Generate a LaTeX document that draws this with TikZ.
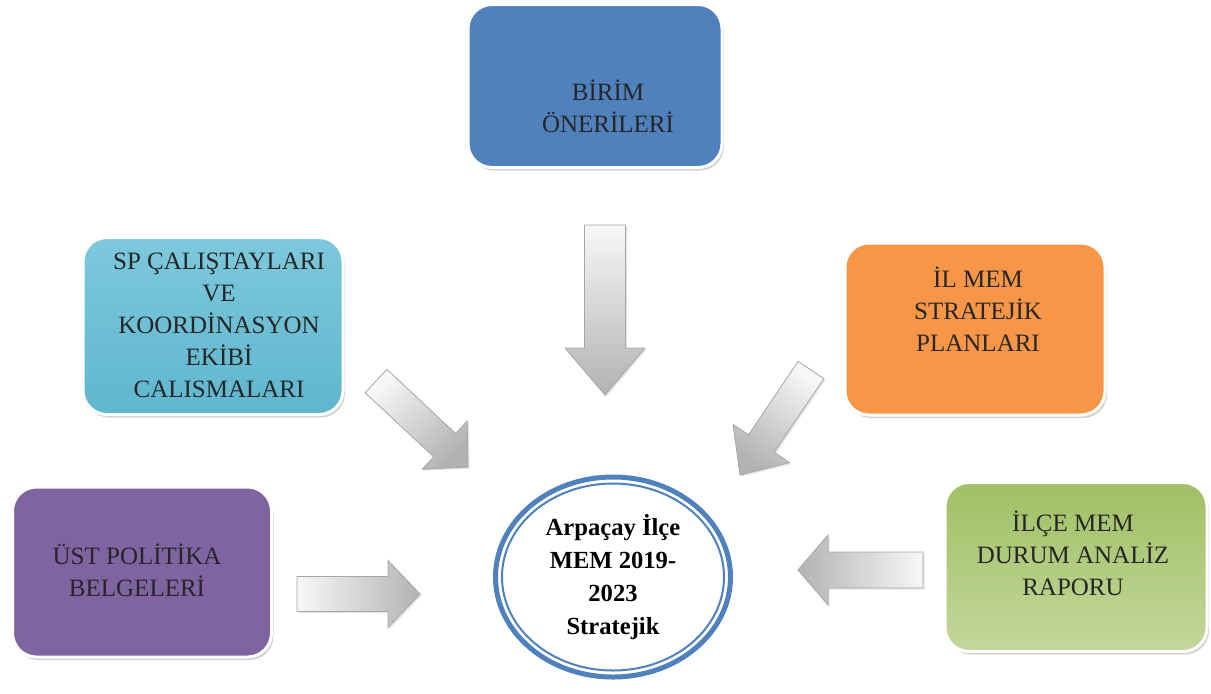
\documentclass[tikz,border=0pt]{standalone}
\usepackage{fontspec}
\setmainfont{Liberation Serif}
\usetikzlibrary{positioning,calc,shapes.geometric,shadows}

\definecolor{birimblue}{RGB}{79,129,189}
\definecolor{spcyantop}{RGB}{125,200,220}
\definecolor{spcyanmid}{RGB}{62,166,196}
\definecolor{spcyanbot}{RGB}{95,182,206}
\definecolor{ilorange}{RGB}{247,150,70}
\definecolor{ilcetop}{RGB}{160,192,100}
\definecolor{ilcemid}{RGB}{142,180,78}
\definecolor{ilcebot}{RGB}{195,215,155}
\definecolor{ustpurple}{RGB}{128,100,162}

% fat block arrow: tail, tip, shaft half width, head half width, head length, shading angle
\newcommand{\fatarrow}[6]{%
  \coordinate (hb) at ($(#2)!#5!(#1)$);
  \shadedraw [bigarrow, shading angle=#6]
    ($(#1)!#3!90:(#2)$) -- ($(hb)!#3!90:(#2)$) -- ($(hb)!#4!90:(#2)$) -- (#2)
    -- ($(hb)!#4!-90:(#2)$) -- ($(hb)!#3!-90:(#2)$) -- ($(#1)!#3!-90:(#2)$) -- cycle;
}

\begin{document}
\begin{tikzpicture}[x=0.5pt, y=-0.5pt, >=latex]
    \tikzstyle{block} = [rectangle, rounded corners=12pt, draw=white, line width=1.5pt,
      drop shadow={opacity=0.35, shadow xshift=1pt, shadow yshift=-1.5pt}]
    \tikzstyle{boxtext} = [align=center, text=black!85, font=\fontsize{12.5}{16}\selectfont]
    \tikzstyle{bigarrow} = [draw=gray!70, line width=0.4pt, top color=gray!6, bottom color=gray!60,
      drop shadow={opacity=0.2, shadow xshift=0.8pt, shadow yshift=-0.8pt}]

    \fill [white] (0,0) rectangle (1211,693);
    \useasboundingbox (0,0) rectangle (1211,693);

    \node [block, fill=birimblue, minimum width=127pt, minimum height=81.5pt] (birim) at (595,86) {};
    \node [boxtext] (birimtext) at (608,106) {BİRİM\\ÖNERİLERİ};

    \node [block, top color=spcyantop, middle color=spcyanmid, bottom color=spcyanbot,
      minimum width=130pt, minimum height=88.5pt] (sp) at (213,326) {};
    \node [boxtext] (sptext) at (219,325) {SP ÇALIŞTAYLARI\\VE\\KOORDİNASYON\\EKİBİ\\CALISMALARI};

    \node [block, fill=ilorange, minimum width=130pt, minimum height=86pt] (ilmem) at (975,329) {};
    \node [boxtext] (ilmemtext) at (978,309) {İL MEM\\STRATEJİK\\PLANLARI};

    \node [block, top color=ilcetop, middle color=ilcemid, bottom color=ilcebot,
      minimum width=131pt, minimum height=84.5pt] (ilce) at (1076,567) {};
    \node [boxtext] (ilcetext) at (1073,553) {İLÇE MEM\\DURUM ANALİZ\\RAPORU};

    \node [block, fill=ustpurple, minimum width=129.5pt, minimum height=85pt] (ust) at (142,572) {};
    \node [boxtext] (usttext) at (137,570) {ÜST POLİTİKA\\BELGELERİ};

    % center
    \node [ellipse, draw=birimblue, line width=2.5pt, fill=white, minimum width=117.5pt,
      minimum height=100pt, inner sep=0pt, align=center,
      font=\bfseries\fontsize{12.3}{16.5}\selectfont] (hub) at (613,577)
      {Arpaçay İlçe\\MEM 2019-\\2023\\Stratejik};
    \draw [birimblue, line width=1pt] (hub.center) ellipse [x radius=55.5pt, y radius=46.75pt];

    % arrows
    \coordinate (birimtail) at (605,225);
    \coordinate (birimtip) at (605,395);
    \coordinate (sptail) at (376,381);
    \coordinate (sptip) at (468,467);
    \coordinate (ilmemtail) at (811,370);
    \coordinate (ilmemtip) at (740,475);
    \coordinate (ilcetail) at (923,570);
    \coordinate (ilcetip) at (798,570);
    \coordinate (usttail) at (297,594);
    \coordinate (usttip) at (420,594);

    \fatarrow{birimtail}{birimtip}{10.25pt}{20pt}{23.5pt}{0}
    \fatarrow{sptail}{sptip}{8pt}{16.5pt}{16pt}{45}
    \fatarrow{ilmemtail}{ilmemtip}{7.75pt}{17pt}{19pt}{-34}
    \fatarrow{ilcetail}{ilcetip}{9pt}{17.5pt}{15pt}{-90}
    \fatarrow{usttail}{usttip}{8.75pt}{16.75pt}{16pt}{90}
\end{tikzpicture}
\end{document}
